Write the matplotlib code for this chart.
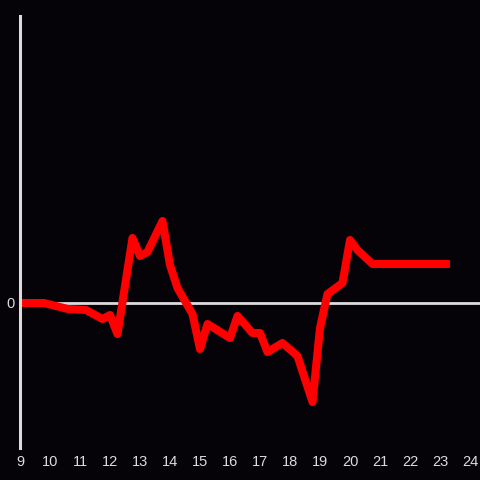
import matplotlib
matplotlib.use("Agg")
from matplotlib import pyplot

# hours of the day and the value at each one
hours = [9.0, 9.8, 10.6, 11.2, 11.75, 12.0, 12.25, 12.75, 13.0, 13.25, 13.75, 14.0,
         14.25, 14.75, 15.0, 15.25, 16.0, 16.25, 16.75, 17.0, 17.25, 17.75, 18.25,
         18.75, 19.0, 19.25, 19.75, 20.0, 20.25, 20.75, 23.33]
values = [0.0, 0.0, -0.06, -0.07, -0.16, -0.12, -0.31, 0.65, 0.47, 0.51, 0.82, 0.38,
          0.15, -0.11, -0.46, -0.21, -0.35, -0.13, -0.30, -0.30, -0.49, -0.40, -0.53,
          -0.99, -0.25, 0.09, 0.20, 0.63, 0.53, 0.39, 0.39]
xticks = list(range(9, 25))

bg = "#050307"
fg = "#dcdcdc"

canvas = pyplot.figure(figsize=(4.8, 4.8), dpi=100, facecolor=bg)
axes = canvas.add_axes([20 / 480, 32 / 480, 460 / 480, 432 / 480])
axes.set_facecolor(bg)

axes.axhline(0, color=fg, lw=2, zorder=1)
axes.plot(hours, values, color="#ff0000", lw=5.8, solid_joinstyle="round",
          solid_capstyle="butt", zorder=2)

axes.set_xlim(9, 9 + 460 / 30)
axes.set_ylim(-1.45, 2.87)
axes.set_xticks(xticks)
axes.set_xticklabels([str(t) for t in xticks])
axes.set_yticks([0])
axes.set_yticklabels(["0"])
axes.tick_params(colors=fg, length=0, labelsize=10.5, pad=5)
axes.tick_params(axis="y", pad=4)
for lab in axes.get_xticklabels() + axes.get_yticklabels():
    lab.set_family("Liberation Sans")

for side in ["top", "right", "bottom"]:
    axes.spines[side].set_visible(False)
axes.spines["left"].set_color(fg)
axes.spines["left"].set_linewidth(2.2)

pyplot.savefig("out.png", dpi=100, facecolor=bg)
